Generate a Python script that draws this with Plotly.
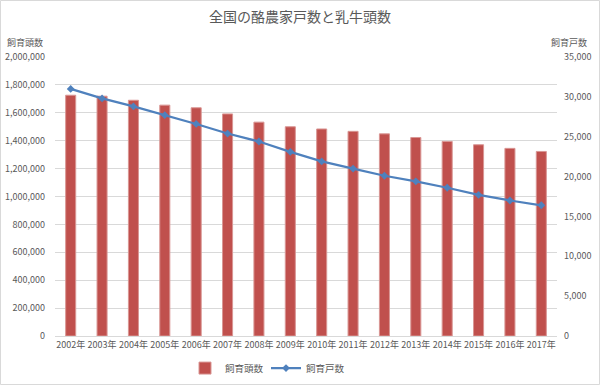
import plotly.graph_objects as go

years = ["2002年", "2003年", "2004年", "2005年", "2006年", "2007年", "2008年", "2009年",
         "2010年", "2011年", "2012年", "2013年", "2014年", "2015年", "2016年", "2017年"]
head_counts = [1726000, 1719000, 1690000, 1655000, 1636000, 1592000, 1533000, 1500000,
               1484000, 1467000, 1449000, 1423000, 1395000, 1371000, 1345000, 1323000]
farm_counts = [31000, 29800, 28800, 27700, 26600, 25400, 24400, 23100,
               21900, 21000, 20100, 19400, 18600, 17700, 17000, 16400]

FONT = "Noto Sans CJK JP"
TXT = "#595959"

fig = go.Figure()
fig.add_trace(go.Bar(
    x=years, y=head_counts, name="飼育頭数", width=0.32,
    marker=dict(color="#C0504D", line=dict(color="#D99694", width=1)),
    yaxis="y",
))
fig.add_trace(go.Scatter(
    x=years, y=farm_counts, name="飼育戸数", mode="lines+markers",
    line=dict(color="#4F81BD", width=2.25),
    marker=dict(symbol="diamond", size=6, color="#4F81BD"),
    yaxis="y2",
))

W, H = 600, 385
ml, mr, mt, mb = 55, 43, 57, 49
pw, ph = W - ml - mr, H - mt - mb

fig.update_layout(
    width=W, height=H,
    margin=dict(l=ml, r=mr, t=mt, b=mb, autoexpand=False),
    paper_bgcolor="white", plot_bgcolor="white",
    font=dict(family=FONT, size=9, color=TXT),
    title=dict(text="全国の酪農家戸数と乳牛頭数", x=0.5, xanchor="center", y=0.955, yanchor="middle",
               font=dict(family=FONT, size=14, color=TXT)),
    xaxis=dict(range=[-0.5, len(years) - 0.5], showgrid=False, showline=True,
               linecolor="#D9D9D9", ticks="",
               tickfont=dict(size=9, color=TXT), tickangle=0, automargin=False),
    yaxis=dict(range=[0, 2000000], dtick=200000, tickformat=",d", showgrid=True,
               gridcolor="#D9D9D9", zeroline=False, showline=False, ticks="",
               ticklabelstandoff=9, tickfont=dict(size=9, color=TXT), automargin=False),
    yaxis2=dict(range=[0, 35000], dtick=5000, tickformat=",d", overlaying="y", side="right",
                showgrid=False, zeroline=False, showline=False, ticks="",
                ticklabelstandoff=6, tickfont=dict(size=9, color=TXT), automargin=False),
    legend=dict(orientation="h", x=(185 - ml) / pw, xanchor="left", y=-0.115, yanchor="middle",
                font=dict(size=9.5, color=TXT), traceorder="normal", entrywidth=36,
                entrywidthmode="pixels"),
    showlegend=True,
)

fig.add_annotation(text="飼育頭数", xref="paper", yref="paper",
                   x=(25 - ml) / pw, y=(H - 42 - mb) / ph, xanchor="center", yanchor="middle",
                   showarrow=False, font=dict(family=FONT, size=9, color=TXT))
fig.add_annotation(text="飼育戸数", xref="paper", yref="paper",
                   x=(569 - ml) / pw, y=(H - 42 - mb) / ph, xanchor="center", yanchor="middle",
                   showarrow=False, font=dict(family=FONT, size=9, color=TXT))

# outer chart border
fig.add_shape(type="rect", xref="paper", yref="paper",
              x0=(0.5 - ml) / pw, x1=(W - 0.5 - ml) / pw,
              y0=(0.5 - mb) / ph, y1=(H - 0.5 - mb) / ph,
              line=dict(color="#D9D9D9", width=1), fillcolor="rgba(0,0,0,0)", layer="below")

fig.write_html("out.html", config={"displayModeBar": False},
               post_script="document.body.style.margin='0';document.body.style.overflow='hidden';")
